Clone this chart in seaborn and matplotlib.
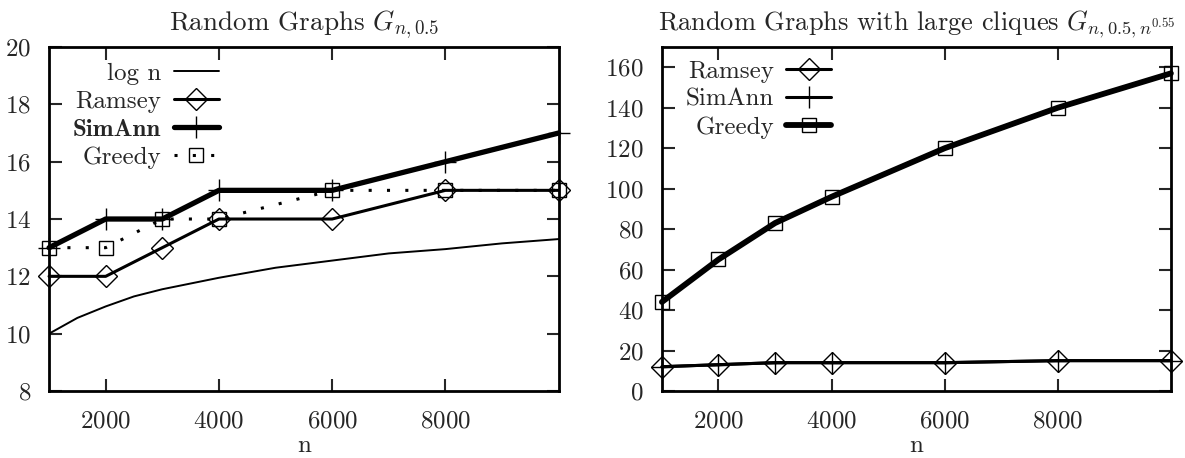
import pandas as pd
import matplotlib
matplotlib.use("Agg")
import matplotlib.pyplot as plt
import seaborn as sns

# === data ===
n_pts = [1000, 2000, 3000, 4000, 6000, 8000, 10000]

# left panel: random graphs G_{n,0.5}
logn_x = [1000, 1500, 2000, 2500, 3000, 4000, 5000, 6000, 7000, 8000, 9000, 10000]
logn_y = [10.0, 10.55, 10.95, 11.3, 11.55, 11.95, 12.3, 12.55, 12.8, 12.95, 13.15, 13.3]
left_ramsey = [12, 12, 13, 14, 14, 15, 15]
left_simann = [13, 14, 14, 15, 15, 16, 17]
left_greedy = [13, 13, 14, 14, 15, 15, 15]

# right panel: random graphs with large cliques
right_ramsey = [12, 13, 14, 14, 14, 15, 15]
right_simann = [12, 13, 14, 14, 14, 15, 15]
right_greedy = [44, 65, 83, 96, 120, 140, 157]

x_ticks = [2000, 4000, 6000, 8000]
left_yticks = [8, 10, 12, 14, 16, 18, 20]
right_yticks = [0, 20, 40, 60, 80, 100, 120, 140, 160]

sns.set_theme(style="ticks")
plt.rcParams["font.family"] = ["cmr10", "DejaVu Serif"]
plt.rcParams["mathtext.fontset"] = "cm"
plt.rcParams["axes.formatter.use_mathtext"] = True
plt.rcParams["axes.unicode_minus"] = False

FS = 18

fig = plt.figure(figsize=(11.85, 4.58), dpi=100)
ax1 = fig.add_axes([0.0414, 0.1463, 0.430, 0.751])
ax2 = fig.add_axes([0.5586, 0.1463, 0.4295, 0.751])

# open markers, the line shows through them, not clipped at the frame
mk = dict(markerfacecolor="none", markeredgecolor="black", markeredgewidth=1.0,
          clip_on=False)

# --- left panel ---
sns.lineplot(x=logn_x, y=logn_y, ax=ax1, color="black", lw=1.4, label="log n")
sns.lineplot(x=n_pts, y=left_ramsey, ax=ax1, color="black", lw=2.2,
             marker="D", markersize=11, label="Ramsey", **mk)
sns.lineplot(x=n_pts, y=left_simann, ax=ax1, color="black", lw=3.8,
             marker="+", markersize=16, label="SimAnn", **mk)
sns.lineplot(x=n_pts, y=left_greedy, ax=ax1, color="black", lw=2.2,
             linestyle=(0, (1, 5)), marker="s", markersize=10,
             label="Greedy", **mk)

# --- right panel ---
sns.lineplot(x=n_pts, y=right_ramsey, ax=ax2, color="black", lw=2.2,
             marker="D", markersize=11, label="Ramsey", **mk)
sns.lineplot(x=n_pts, y=right_simann, ax=ax2, color="black", lw=2.2,
             marker="+", markersize=16, label="SimAnn", **mk)
sns.lineplot(x=n_pts, y=right_greedy, ax=ax2, color="black", lw=4.2,
             marker="s", markersize=10, label="Greedy", **mk)

for ax, yl, yt, leg_top in [(ax1, (8, 20), left_yticks, 0.955),
                            (ax2, (0, 170), right_yticks, 0.962)]:
    ax.set_xlim(1000, 10000)
    ax.set_ylim(*yl)
    ax.set_xticks(x_ticks)
    ax.set_yticks(yt)
    ax.tick_params(direction="in", length=9, width=1.5, top=True, right=True,
                   labelsize=FS)
    ax.tick_params(axis="x", pad=14)
    ax.tick_params(axis="y", pad=13)
    for s in ax.spines.values():
        s.set_linewidth(2.0)
        s.set_color("black")
    ax.set_xlabel("n", fontsize=FS, labelpad=2)
    ax.set_ylabel("")
    ax.grid(False)
    ax.legend(loc="upper right", bbox_to_anchor=(0.333, leg_top),
              frameon=False, markerfirst=False, fontsize=FS,
              handlelength=1.8, handletextpad=0.5, labelspacing=0.22,
              borderaxespad=0.0, borderpad=0.0)

# bold SimAnn label in the left legend
for t in ax1.get_legend().get_texts():
    if t.get_text() == "SimAnn":
        t.set_fontfamily(["cmb10", "DejaVu Serif"])

ax1.set_title(r"Random Graphs $G_{n,0.5}$", fontsize=19.5, pad=12)
ax2.set_title(r"Random Graphs with large cliques $G_{n,0.5,n^{0.55}}$",
              fontsize=19, x=0.5, pad=12)

fig.savefig("out.png", dpi=100)
